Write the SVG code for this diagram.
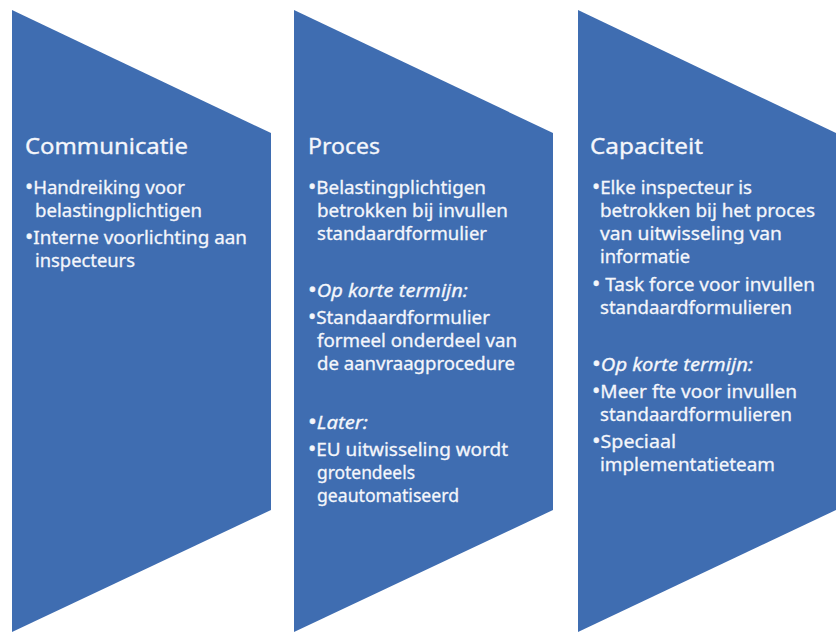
<svg xmlns="http://www.w3.org/2000/svg" width="839" height="633" viewBox="0 0 839 633">
<style>
.shape{fill:#3F6DB1}
text{font-family:"Noto Sans","Open Sans","Liberation Sans",sans-serif;fill:#F4F6FB;stroke:#F4F6FB;stroke-width:0.3}
.title{font-size:21px}
.body{font-size:18px}
.it{font-style:italic}
.b{font-size:21px}
</style>
<rect width="839" height="633" fill="#FFFFFF"/>
<g id="communicatie">
<polygon class="shape" points="12,10 271,133 271,510 12,632"/>
<text class="title" x="25" y="154" textLength="163" lengthAdjust="spacingAndGlyphs">Communicatie</text>
<text class="body" x="25" y="194" textLength="160" lengthAdjust="spacingAndGlyphs"><tspan class="b">•</tspan>Handreiking voor</text>
<text class="body" x="35" y="217" textLength="167" lengthAdjust="spacingAndGlyphs">belastingplichtigen</text>
<text class="body" x="25" y="244" textLength="222" lengthAdjust="spacingAndGlyphs"><tspan class="b">•</tspan>Interne voorlichting aan</text>
<text class="body" x="35" y="267" textLength="100" lengthAdjust="spacingAndGlyphs">inspecteurs</text>
</g>
<g id="proces">
<polygon class="shape" points="294,10 553,133 553,510 294,632"/>
<text class="title" x="308" y="154" textLength="72" lengthAdjust="spacingAndGlyphs">Proces</text>
<text class="body" x="308" y="194" textLength="178" lengthAdjust="spacingAndGlyphs"><tspan class="b">•</tspan>Belastingplichtigen</text>
<text class="body" x="317" y="217" textLength="191" lengthAdjust="spacingAndGlyphs">betrokken bij invullen</text>
<text class="body" x="317" y="240" textLength="170" lengthAdjust="spacingAndGlyphs">standaardformulier</text>
<text class="body" x="308" y="297" textLength="160" lengthAdjust="spacingAndGlyphs"><tspan class="b">•</tspan><tspan class="it">Op korte termijn:</tspan></text>
<text class="body" x="308" y="324" textLength="182" lengthAdjust="spacingAndGlyphs"><tspan class="b">•</tspan>Standaardformulier</text>
<text class="body" x="317" y="347" textLength="200" lengthAdjust="spacingAndGlyphs">formeel onderdeel van</text>
<text class="body" x="317" y="370" textLength="198" lengthAdjust="spacingAndGlyphs">de aanvraagprocedure</text>
<text class="body" x="308" y="429" textLength="60" lengthAdjust="spacingAndGlyphs"><tspan class="b">•</tspan><tspan class="it">Later:</tspan></text>
<text class="body" x="308" y="456" textLength="200" lengthAdjust="spacingAndGlyphs"><tspan class="b">•</tspan>EU uitwisseling wordt</text>
<text class="body" x="317" y="479" textLength="98" lengthAdjust="spacingAndGlyphs">grotendeels</text>
<text class="body" x="317" y="502" textLength="142" lengthAdjust="spacingAndGlyphs">geautomatiseerd</text>
</g>
<g id="capaciteit">
<polygon class="shape" points="578,10 836,133 836,510 578,632"/>
<text class="title" x="590" y="154" textLength="113" lengthAdjust="spacingAndGlyphs">Capaciteit</text>
<text class="body" x="592" y="194" textLength="160" lengthAdjust="spacingAndGlyphs"><tspan class="b">•</tspan>Elke inspecteur is</text>
<text class="body" x="600" y="217" textLength="215" lengthAdjust="spacingAndGlyphs">betrokken bij het proces</text>
<text class="body" x="600" y="240" textLength="182" lengthAdjust="spacingAndGlyphs">van uitwisseling van</text>
<text class="body" x="600" y="263" textLength="90" lengthAdjust="spacingAndGlyphs">informatie</text>
<text class="body" x="592" y="291" textLength="223" lengthAdjust="spacingAndGlyphs"><tspan class="b">•</tspan> Task force voor invullen</text>
<text class="body" x="600" y="314" textLength="192" lengthAdjust="spacingAndGlyphs">standaardformulieren</text>
<text class="body" x="592" y="371" textLength="161" lengthAdjust="spacingAndGlyphs"><tspan class="b">•</tspan><tspan class="it">Op korte termijn:</tspan></text>
<text class="body" x="592" y="398" textLength="205" lengthAdjust="spacingAndGlyphs"><tspan class="b">•</tspan>Meer fte voor invullen</text>
<text class="body" x="600" y="421" textLength="192" lengthAdjust="spacingAndGlyphs">standaardformulieren</text>
<text class="body" x="592" y="448" textLength="84" lengthAdjust="spacingAndGlyphs"><tspan class="b">•</tspan>Speciaal</text>
<text class="body" x="600" y="471" textLength="175" lengthAdjust="spacingAndGlyphs">implementatieteam</text>
</g>
</svg>
